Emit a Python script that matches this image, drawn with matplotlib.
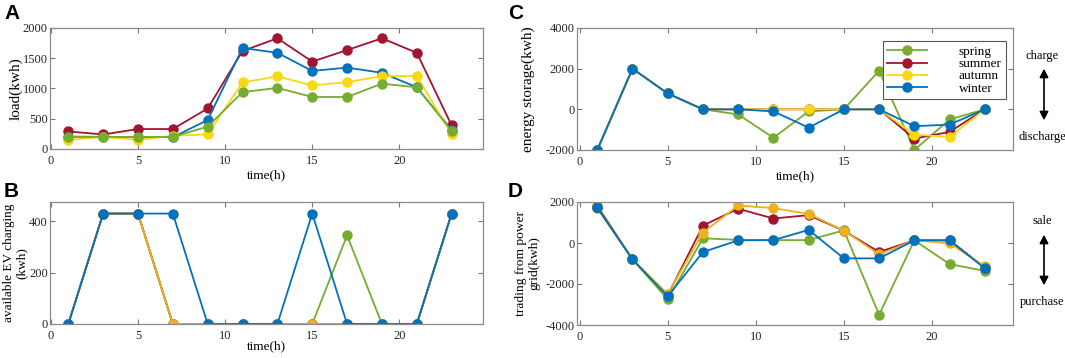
import matplotlib
matplotlib.use("Agg")
import matplotlib.pyplot as plt

# ---------------- data ----------------
hours = [1, 3, 5, 7, 9, 11, 13, 15, 17, 19, 21, 23]
seasons = ["spring", "summer", "autumn", "winter"]

# A: load (kwh)
load_spring = [200, 200, 200, 200, 370, 940, 1010, 860, 860, 1080, 1020, 300]
load_summer = [290, 240, 330, 330, 670, 1620, 1830, 1445, 1635, 1830, 1590, 390]
load_autumn = [150, 200, 150, 220, 240, 1100, 1200, 1050, 1105, 1205, 1205, 245]
load_winter = [205, 200, 200, 195, 480, 1670, 1590, 1290, 1345, 1260, 1020, 315]

# B: available EV charging (kwh)
ev_spring = [0, 430, 430, 0, 0, 0, 0, 0, 345, 0, 0, 430]
ev_summer = [0, 430, 430, 0, 0, 0, 0, 0, 0, 0, 0, 430]
ev_autumn = [0, 430, 430, 0, 0, 0, 0, 0, 0, 0, 0, 430]
ev_winter = [0, 430, 430, 430, 0, 0, 0, 430, 0, 0, 0, 430]

# C: energy storage (kwh)
es_spring = [-2000, 2000, 780, 0, -250, -1400, -100, 0, 1900, -2000, -500, 0]
es_summer = [-2000, 2000, 780, 0, 0, 0, 0, 0, 0, -1440, -1110, 0]
es_autumn = [-2000, 2000, 780, 0, 0, 0, 0, 0, 0, -1240, -1360, 0]
es_winter = [-2000, 2000, 780, 0, 0, -100, -900, 0, 0, -830, -750, 0]

# D: trading from power grid (kwh)
tr_spring = [1700, -800, -2750, 230, 150, 140, 140, 620, -3500, 130, -1030, -1360]
tr_summer = [1750, -800, -2550, 850, 1670, 1195, 1360, 600, -440, 130, 130, -1200]
tr_autumn = [1850, -800, -2480, 510, 1830, 1700, 1420, 605, -555, 130, -20, -1130]
tr_winter = [1780, -800, -2600, -440, 130, 140, 640, -750, -750, 130, 130, -1240]

GREEN = "#77AC30"
RED = "#A2142F"
YELLOW = "#F9D812"
ORANGE = "#EDB120"
BLUE = "#0072BD"

plt.rcParams["font.family"] = "Liberation Serif"
plt.rcParams["font.size"] = 9.5
plt.rcParams["axes.unicode_minus"] = False

fig = plt.figure(figsize=(10.65, 3.58), dpi=100)

W, H = 1065.0, 358.0


def make_axes(x0, y0, x1, y1):
    return fig.add_axes([x0 / W, 1 - y1 / H, (x1 - x0) / W, (y1 - y0) / H])


def style(ax, xlim, ylim, yticks):
    ax.set_xlim(*xlim)
    ax.set_ylim(*ylim)
    ax.set_xticks([0, 5, 10, 15, 20])
    ax.set_yticks(yticks)
    ax.tick_params(direction="in", top=True, right=True, length=3.5,
                   width=0.8, color="#777777", labelcolor="#262626",
                   labelsize=9)
    ax.tick_params(axis="y", pad=1.5)
    ax.tick_params(axis="x", pad=4)
    for s in ax.spines.values():
        s.set_color("#8a8a8a")
        s.set_linewidth(0.9)


def draw(ax, series, colors, labels=None):
    for i, (ys, c) in enumerate(zip(series, colors)):
        ax.plot(hours, ys, "-o", color=c, lw=1.3, ms=6.5,
                label=None if labels is None else labels[i])


# ---- A ----
axA = make_axes(50, 28, 483, 149)
draw(axA, [load_summer, load_winter, load_autumn, load_spring],
     [RED, BLUE, YELLOW, GREEN])
style(axA, (-0.05, 24.8), (0, 2000), [0, 500, 1000, 1500, 2000])
axA.set_ylabel("load(kwh)", fontsize=11)
axA.yaxis.set_label_coords(-0.064, 0.5)
axA.set_xlabel("time(h)", labelpad=2)

# ---- B ----
axB = make_axes(50, 202, 483, 324)
draw(axB, [ev_spring, ev_summer, ev_autumn, ev_winter],
     [GREEN, RED, ORANGE, BLUE])
style(axB, (-0.05, 24.8), (0, 475), [0, 200, 400])
axB.set_ylabel("available EV charging\n(kwh)", fontsize=9.5, linespacing=1.05)
axB.yaxis.set_label_coords(-0.052, 0.5)
axB.set_xlabel("time(h)", labelpad=-1)

# ---- C ----
axC = make_axes(577, 28, 1013, 150)
draw(axC, [es_spring, es_summer, es_autumn, es_winter],
     [GREEN, RED, YELLOW, BLUE], seasons)
style(axC, (-0.15, 24.6), (-2000, 4000), [-2000, 0, 2000, 4000])
axC.set_ylabel("energy storage(kwh)", fontsize=11)
axC.yaxis.set_label_coords(-0.097, 0.5)
axC.set_xlabel("time(h)", labelpad=2)
leg = axC.legend(loc="upper right", bbox_to_anchor=(0.984, 0.893),
                 borderaxespad=0, fontsize=9.5, handlelength=3.0,
                 labelspacing=0.0, borderpad=0.35, handletextpad=2.4,
                 fancybox=False, framealpha=1, edgecolor="#555555")
leg.get_frame().set_linewidth(0.8)

# ---- D ----
axD = make_axes(577, 202, 1013, 325)
draw(axD, [tr_spring, tr_summer, tr_autumn, tr_winter],
     [GREEN, RED, ORANGE, BLUE])
style(axD, (-0.15, 24.6), (-4000, 2000), [-4000, -2000, 0, 2000])
axD.set_ylabel("trading from power\ngrid(kwh)", fontsize=9.7, linespacing=1.05)
axD.yaxis.set_label_coords(-0.085, 0.5)

# ---- panel letters ----
for letter, x, y in [("A", 4, 4), ("B", 4, 182), ("C", 508, 4), ("D", 508, 182)]:
    fig.text(x / W, 1 - y / H, letter, family="Liberation Sans",
             weight="bold", fontsize=15, va="top", ha="left")


# ---- side notes ----
def side_note(top_txt, bot_txt, y_top, y_bot, a_top, a_bot):
    fig.text(1042 / W, 1 - y_top / H, top_txt, ha="center", va="center",
             fontsize=9)
    fig.text(1042 / W, 1 - y_bot / H, bot_txt, ha="center", va="center",
             fontsize=9)
    fig.patches.append(matplotlib.patches.FancyArrowPatch(
        (1044 / W, 1 - a_top / H), (1044 / W, 1 - a_bot / H),
        transform=fig.transFigure,
        arrowstyle="<|-|>,head_length=5,head_width=2.6",
        color="black", lw=1.2))


side_note("charge", "discharge", 56, 137, 66, 123)
side_note("sale", "purchase", 221, 302, 232, 288)

fig.savefig("out.png", dpi=100)
